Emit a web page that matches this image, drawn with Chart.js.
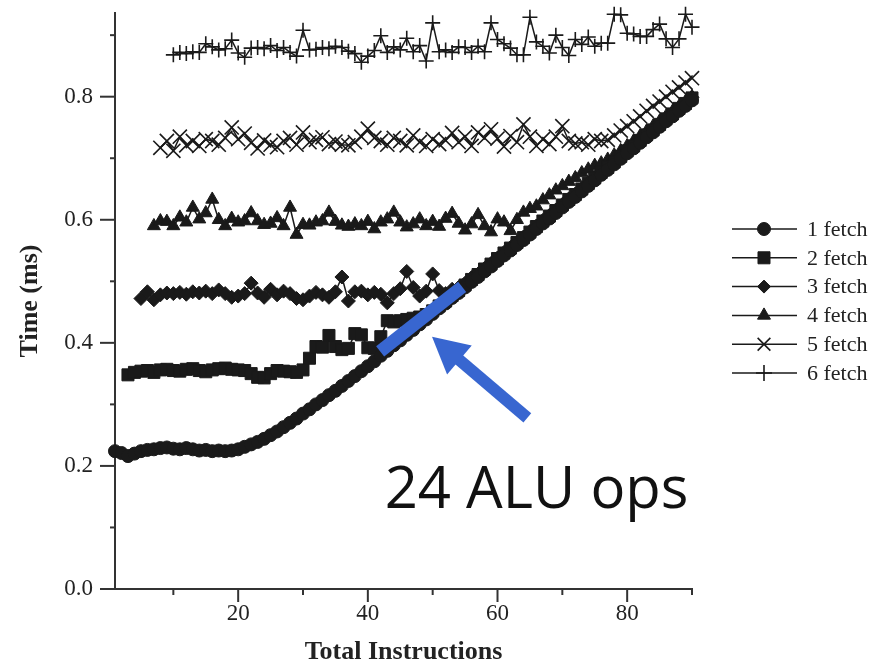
<!DOCTYPE html>
<html>
<head>
<meta charset="utf-8">
<script src="https://cdn.jsdelivr.net/npm/chart.js@4.4.1/dist/chart.umd.min.js"></script>
<style>
  body { margin: 0; background: #fff; }
  canvas { display: block; }
</style>
</head>
<body>
<canvas id="chart" width="888" height="665"></canvas>
<script>
const totalInstructions = [
  1, 2, 3, 4, 5, 6, 7, 8, 9, 10,
  11, 12, 13, 14, 15, 16, 17, 18, 19, 20,
  21, 22, 23, 24, 25, 26, 27, 28, 29, 30,
  31, 32, 33, 34, 35, 36, 37, 38, 39, 40,
  41, 42, 43, 44, 45, 46, 47, 48, 49, 50,
  51, 52, 53, 54, 55, 56, 57, 58, 59, 60,
  61, 62, 63, 64, 65, 66, 67, 68, 69, 70,
  71, 72, 73, 74, 75, 76, 77, 78, 79, 80,
  81, 82, 83, 84, 85, 86, 87, 88, 89, 90
];

const seriesNames = ["1 fetch", "2 fetch", "3 fetch", "4 fetch", "5 fetch", "6 fetch"];

const fetch1 = [
  .224, .221, .216, .220, .224, .226, .227, .229, .230, .228,
  .227, .229, .227, .225, .226, .224, .225, .224, .225, .227,
  .231, .235, .239, .244, .250, .256, .263, .270, .277, .285,
  .292, .300, .307, .315, .322, .330, .338, .346, .354, .362,
  .370, .379, .387, .396, .404, .413, .421, .430, .438, .447,
  .456, .464, .473, .481, .490, .499, .507, .516, .524, .533,
  .542, .550, .559, .567, .576, .585, .594, .602, .611, .620,
  .629, .637, .646, .655, .664, .673, .681, .690, .699, .708,
  .716, .725, .734, .742, .751, .760, .768, .777, .785, .794
];
const fetch2 = [
  null, null, .348, .352, .354, .355, .352, .356, .357, .355,
  .354, .357, .358, .355, .353, .356, .358, .359, .357, .356,
  .355, .350, .344, .343, .350, .355, .354, .353, .352, .356,
  .375, .394, .393, .412, .394, .389, .391, .415, .413, .392,
  .391, .410, .436, .434, .436, .438, .440, .442, .446, .452,
  .460, .468, .477, .485, .494, .503, .511, .520, .528, .537,
  .546, .554, .563, .571, .580, .589, .598, .606, .615, .624,
  .633, .641, .650, .659, .668, .677, .685, .694, .703, .712,
  .720, .729, .738, .746, .755, .764, .772, .781, .789, .798
];
const fetch3 = [
  null, null, null, null, .472, .483, .470, .478, .481, .480,
  .482, .479, .483, .481, .484, .480, .486, .480, .474, .476,
  .480, .497, .481, .474, .487, .478, .484, .480, .472, .470,
  .476, .482, .478, .474, .483, .507, .468, .483, .484, .478,
  .482, .479, .465, .480, .488, .516, .490, .476, .484, .512,
  .485, .480, .487, .490, .497, .506, .512, .521, .529, .538,
  .547, .555, .564, .572, .581, .590, .599, .607, .616, .625,
  .634, .642, .651, .660, .669, .678, .686, .695, .704, .713,
  .721, .730, .739, .747, .756, .765, .773, .782, .790, .799
];
const fetch4 = [
  null, null, null, null, null, null, .590, .598, .597, .590,
  .604, .596, .620, .601, .611, .633, .600, .590, .602, .596,
  .598, .611, .598, .592, .594, .603, .590, .620, .576, .592,
  .591, .596, .598, .612, .597, .591, .589, .593, .590, .597,
  .585, .596, .601, .612, .596, .588, .593, .601, .590, .597,
  .589, .602, .610, .594, .583, .593, .608, .590, .580, .601,
  .596, .582, .600, .612, .618, .622, .632, .640, .648, .655,
  .662, .668, .676, .682, .688, .692, .698, .705, .712, .720,
  .728, .736, .744, .752, .760, .768, .776, .784, .792, .800
];
const fetch5 = [
  null, null, null, null, null, null, null, .717, .728, .712,
  .735, .721, .728, .720, .731, .728, .722, .733, .750, .731,
  .740, .725, .716, .729, .722, .718, .728, .733, .722, .742,
  .726, .730, .734, .723, .727, .722, .721, .726, .735, .748,
  .733, .728, .722, .733, .728, .721, .737, .726, .720, .731,
  .723, .729, .741, .726, .735, .720, .742, .733, .747, .732,
  .719, .736, .726, .755, .735, .720, .731, .723, .735, .752,
  .728, .724, .726, .722, .731, .728, .730, .737, .745, .752,
  .760, .768, .777, .785, .792, .800, .808, .815, .823, .830
];
const fetch6 = [
  null, null, null, null, null, null, null, null, null, .868,
  .872, .870, .873, .872, .886, .881, .876, .878, .892, .871,
  .864, .879, .880, .878, .883, .875, .880, .872, .866, .908,
  .876, .877, .880, .878, .882, .880, .874, .870, .856, .866,
  .875, .899, .872, .881, .876, .895, .873, .883, .858, .920,
  .873, .876, .872, .881, .880, .872, .882, .873, .920, .893,
  .886, .879, .868, .868, .929, .889, .882, .871, .900, .880,
  .867, .893, .885, .897, .882, .887, .887, .934, .933, .903,
  .902, .898, .898, .909, .918, .894, .880, .894, .934, .913
];

const xTicks = [10, 20, 30, 40, 50, 60, 70, 80, 90];
const yTicks = [0, 0.1, 0.2, 0.3, 0.4, 0.5, 0.6, 0.7, 0.8, 0.9];

const INK = "#1a1a1a";
const BLUE = "#3866d0";
const serif = "'Liberation Serif', 'Times New Roman', serif";

const markers = [
  { pointStyle: "circle", radius: 6.5, legendRadius: 6.5, filled: true },
  { pointStyle: "rect", radius: 8.5, legendRadius: 8.5, filled: true },
  { pointStyle: "rectRot", radius: 7, legendRadius: 6.5, filled: true },
  { pointStyle: "triangle", radius: 7.5, legendRadius: 7.5, filled: true },
  { pointStyle: "crossRot", radius: 10, legendRadius: 9, filled: false },
  { pointStyle: "cross", radius: 7.5, legendRadius: 8, filled: false }
];

const allSeries = [fetch1, fetch2, fetch3, fetch4, fetch5, fetch6];

const datasets = allSeries.map((values, i) => ({
  label: seriesNames[i],
  data: values,
  borderColor: INK,
  borderWidth: 1.5,
  pointStyle: markers[i].pointStyle,
  pointRadius: markers[i].radius,
  pointBackgroundColor: markers[i].filled ? INK : "rgba(0,0,0,0)",
  pointBorderColor: INK,
  pointBorderWidth: markers[i].filled ? 1 : 1.6,
  tension: 0,
  clip: false
}));

// ticks: long for labelled values, short for the in-between ones
const tickMarks = {
  id: "tickMarks",
  afterDraw(chart) {
    const { ctx, scales: { x, y } } = chart;
    ctx.save();
    ctx.strokeStyle = "#333";
    ctx.lineWidth = 2;
    xTicks.forEach(v => {
      const px = x.getPixelForValue(v);
      const len = v % 20 === 0 ? 13 : 6;
      ctx.beginPath();
      ctx.moveTo(px, y.bottom);
      ctx.lineTo(px, y.bottom + len);
      ctx.stroke();
    });
    yTicks.forEach((v, i) => {
      const py = y.getPixelForValue(v);
      const len = i % 2 === 0 ? 15 : 5;
      ctx.beginPath();
      ctx.moveTo(x.left, py);
      ctx.lineTo(x.left - len, py);
      ctx.stroke();
    });
    ctx.restore();
  }
};

const sideLegend = {
  id: "sideLegend",
  afterDraw(chart) {
    const { ctx, chartArea } = chart;
    const x0 = chartArea.right + 40;
    const y0 = 229;
    ctx.save();
    ctx.font = "22px " + serif;
    ctx.textBaseline = "middle";
    chart.data.datasets.forEach((ds, i) => {
      const yy = y0 + i * 28.8;
      ctx.strokeStyle = INK;
      ctx.lineWidth = 1.5;
      ctx.beginPath();
      ctx.moveTo(x0, yy);
      ctx.lineTo(x0 + 65, yy);
      ctx.stroke();
      ctx.fillStyle = INK;
      ctx.lineWidth = markers[i].filled ? 1 : 1.6;
      Chart.helpers.drawPoint(ctx, {
        pointStyle: markers[i].pointStyle,
        radius: markers[i].legendRadius,
        rotation: 0,
        borderWidth: ctx.lineWidth
      }, x0 + 32, yy);
      ctx.fillStyle = "#222";
      ctx.fillText(ds.label, x0 + 75, yy + 1);
    });
    ctx.restore();
  }
};

// blue highlight bar, arrow and caption
const callout = {
  id: "callout",
  afterDraw(chart) {
    const { ctx, scales: { x, y } } = chart;
    const p = (a, b) => [x.getPixelForValue(a), y.getPixelForValue(b)];
    ctx.save();
    ctx.strokeStyle = BLUE;
    ctx.fillStyle = BLUE;
    ctx.lineCap = "butt";

    const [b1x, b1y] = p(41.9, 0.386);
    const [b2x, b2y] = p(54.55, 0.491);
    ctx.lineWidth = 13;
    ctx.beginPath();
    ctx.moveTo(b1x, b1y);
    ctx.lineTo(b2x, b2y);
    ctx.stroke();

    const [tx, ty] = p(64.6, 0.278);
    const [hx, hy] = p(49.9, 0.41);
    const dx = hx - tx, dy = hy - ty;
    const len = Math.hypot(dx, dy);
    const ux = dx / len, uy = dy / len;
    const headLen = 36, headHalf = 19;
    const bx = hx - ux * headLen, by = hy - uy * headLen;
    ctx.lineWidth = 12;
    ctx.beginPath();
    ctx.moveTo(tx, ty);
    ctx.lineTo(bx + ux * 2, by + uy * 2);
    ctx.stroke();
    ctx.beginPath();
    ctx.moveTo(hx, hy);
    ctx.lineTo(bx - uy * headHalf, by + ux * headHalf);
    ctx.lineTo(bx + uy * headHalf, by - ux * headHalf);
    ctx.closePath();
    ctx.fill();

    const [cx, cy] = p(42.6, 0.131);
    ctx.fillStyle = "#111";
    ctx.font = "58px 'Open Sans', sans-serif";
    ctx.textBaseline = "alphabetic";
    ctx.fillText("24 ALU ops", cx, cy);
    ctx.restore();
  }
};

new Chart(document.getElementById("chart"), {
  type: "line",
  data: { labels: totalInstructions, datasets },
  options: {
    responsive: false,
    animation: false,
    layout: { padding: { left: 0, right: 196, top: 13, bottom: 0 } },
    plugins: { legend: { display: false }, tooltip: { enabled: false } },
    scales: {
      x: {
        type: "linear",
        min: 1,
        max: 90,
        afterBuildTicks: s => { s.ticks = xTicks.map(v => ({ value: v })); },
        afterFit: s => { s.height = 76; s.paddingLeft = 0; s.paddingRight = 0; },
        grid: { display: false, drawTicks: true, tickLength: 9 },
        border: { display: true, color: "#333", width: 2 },
        ticks: {
          padding: 2,
          color: "#222",
          font: { family: serif, size: 23 },
          maxRotation: 0,
          autoSkip: false,
          callback: v => (v % 20 === 0 ? String(v) : "")
        },
        title: {
          display: true,
          text: "Total Instructions",
          color: "#222",
          font: { family: serif, size: 26, weight: "bold", lineHeight: 1 },
          padding: { top: 0, bottom: 0 }
        }
      },
      y: {
        min: 0,
        max: 0.936,
        afterBuildTicks: s => { s.ticks = yTicks.map(v => ({ value: v })); },
        afterFit: s => { s.width = 115; s.paddingTop = 0; s.paddingBottom = 0; },
        grid: { display: false, drawTicks: true, tickLength: 15 },
        border: { display: true, color: "#333", width: 2 },
        ticks: {
          padding: 7,
          color: "#222",
          font: { family: serif, size: 23 },
          autoSkip: false,
          callback: (v, i) => (i % 2 === 0 ? v.toFixed(1) : "")
        },
        title: {
          display: true,
          text: "Time (ms)",
          color: "#222",
          font: { family: serif, size: 26, weight: "bold", lineHeight: 1 },
          padding: { top: 17, bottom: 0 }
        }
      }
    }
  },
  plugins: [tickMarks, sideLegend, callout]
});
</script>
</body>
</html>
